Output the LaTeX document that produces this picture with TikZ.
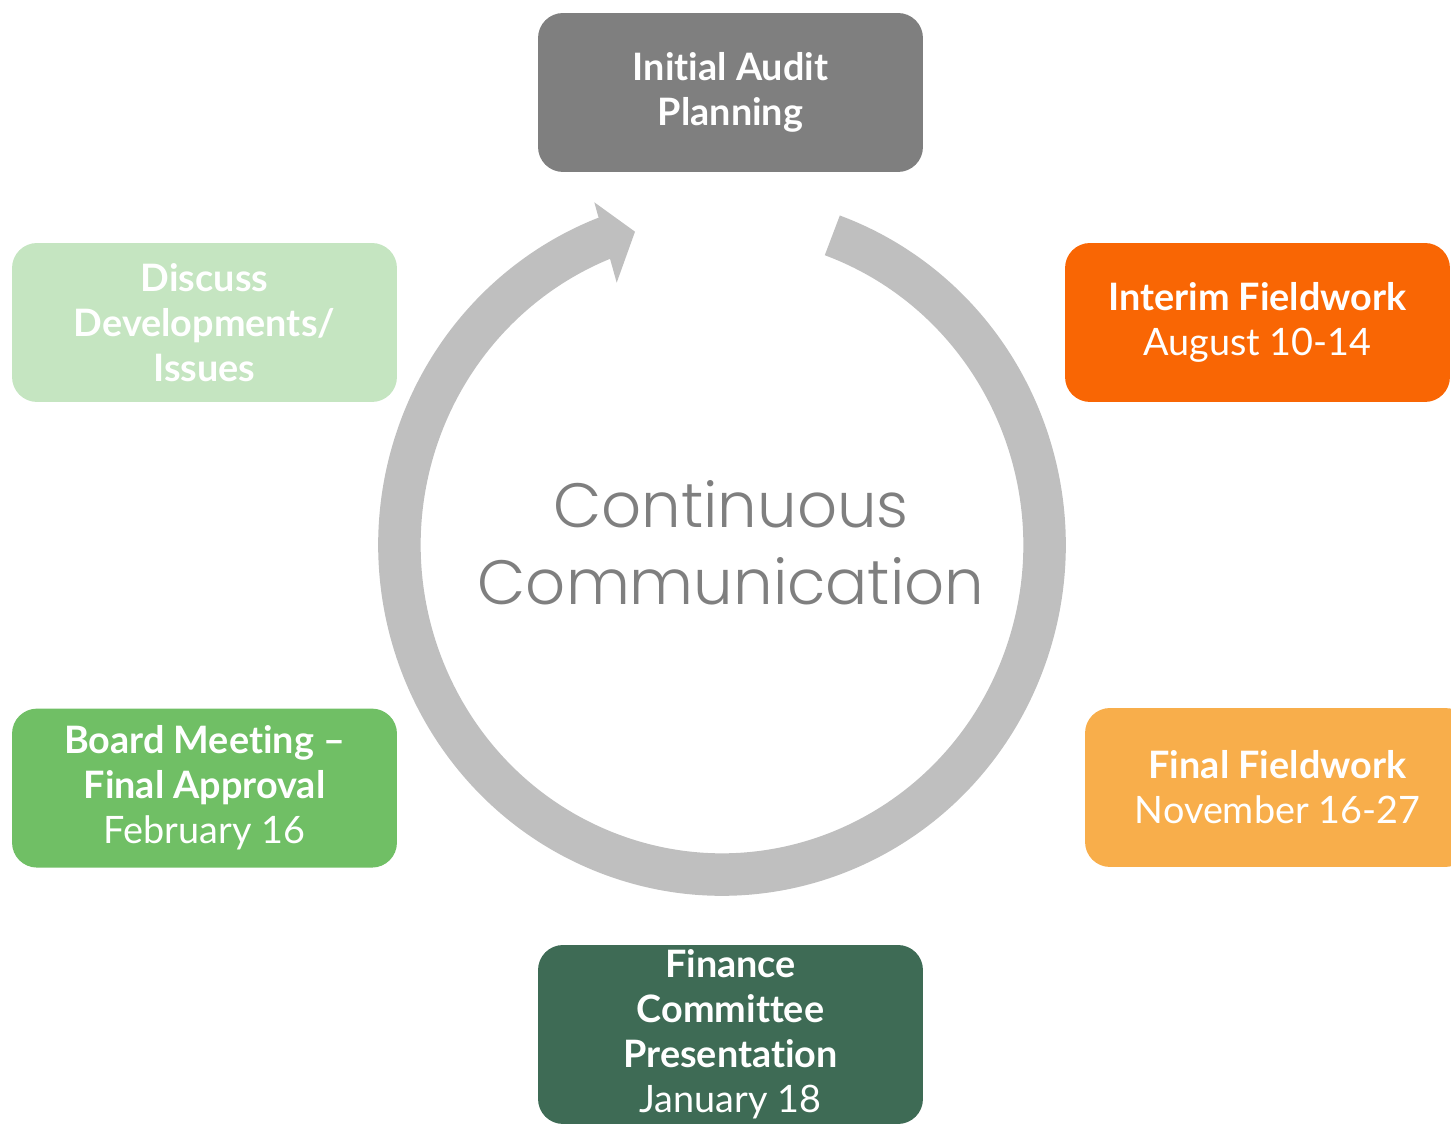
\documentclass[tikz,border=0pt]{standalone}
\usepackage{fontspec}
\setmainfont{Lato}[Ligatures=NoCommon]
\newfontfamily\ringfont{Poppins Light}
\usetikzlibrary{positioning}

\definecolor{plangray}{HTML}{7F7F7F}
\definecolor{ringgray}{HTML}{BFBFBF}
\definecolor{interimorange}{HTML}{F96604}
\definecolor{finalorange}{HTML}{F8AE4B}
\definecolor{financegreen}{HTML}{3E6B55}
\definecolor{boardgreen}{HTML}{70BF65}
\definecolor{discussgreen}{HTML}{C5E5C1}

\begin{document}
\begin{tikzpicture}[x=0.02cm,y=0.02cm,node distance=6.12cm,
  stage/.style={rectangle,rounded corners=0.5cm,minimum width=7.7cm,
    minimum height=3.18cm,inner sep=0pt,align=center,text=white,
    font=\fontsize{21.5}{25.6}\selectfont}]

\useasboundingbox (0,0) rectangle (1451,1126);

% the grey ring, open at the top
\coordinate(ctr) at (722,581);
\draw[ringgray,line width=0.85cm] (ctr) ++(70:322.5 and 329.5)
  arc[start angle=70,end angle=-249,x radius=322.5,y radius=329.5];

\coordinate(headtop) at (594.3,923.7);
\coordinate(tip) at (635,894.3);
\coordinate(headbot) at (616.7,843.3);
\fill[ringgray] (headtop) -- (tip) -- (headbot) -- cycle;

\node(talk) at (731,583)[text=plangray,align=center,
  font=\ringfont\fontsize{35.6}{43.6}\selectfont]{Continuous\\Communication};

% the stages round the ring
\node(plan) at (730.5,1033.5)[stage,fill=plangray]{\textbf{Initial Audit}\\\textbf{Planning}};

\node(interim) at (1257.5,803.5)[stage,fill=interimorange]{\textbf{Interim Fieldwork}\\August 10-14};

\node(final) at (1277.5,338.5)[stage,fill=finalorange]{\textbf{Final Fieldwork}\\November 16-27};

\node(finance) at (730.5,91.5)[stage,fill=financegreen,minimum height=3.58cm]{\textbf{Finance}\\\textbf{Committee}\\\textbf{Presentation}\\January 18};

\node(discuss) at (204.5,803.5)[stage,fill=discussgreen]{\textbf{Discuss}\\\textbf{Developments/}\\\textbf{Issues}};

\node(board)[stage,fill=boardgreen,below=of discuss]{\textbf{Board Meeting –}\\\textbf{Final Approval}\\February 16};

\end{tikzpicture}
\end{document}
